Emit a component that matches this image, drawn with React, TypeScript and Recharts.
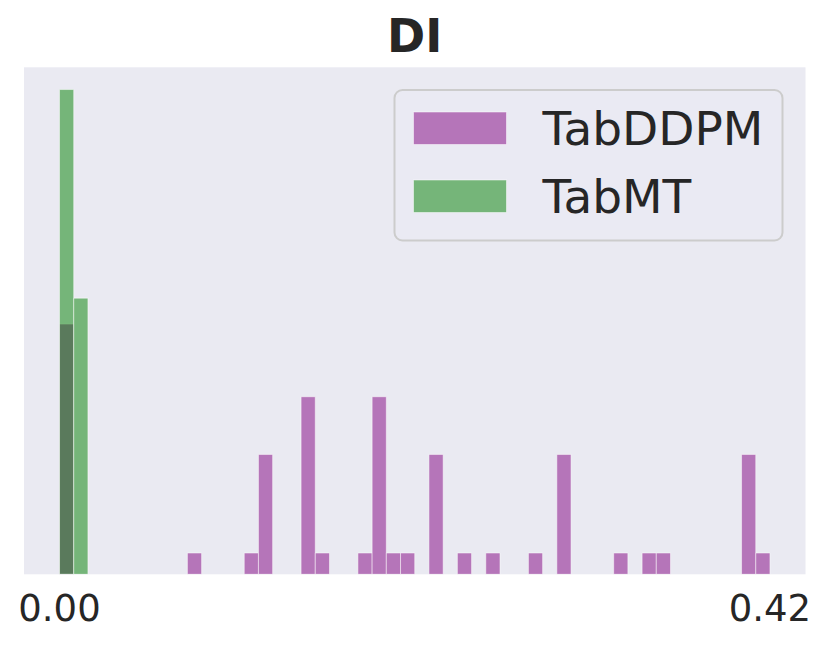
import React from "react";
import { BarChart, Bar, XAxis, YAxis, CartesianGrid } from "recharts";

const TITLE = "DI";
const SERIES_NAMES = ["TabDDPM", "TabMT"];
const SERIES_COLORS = ["purple", "green"];
const BIN_WIDTH = 0.0084;

// left edges of the non-empty bins and their counts
const tabddpmEdges = [0, 0.0756, 0.1092, 0.1176, 0.1428, 0.1512, 0.1764, 0.1848, 0.1932, 0.2016, 0.2184, 0.2352, 0.252, 0.2772, 0.294, 0.3276, 0.3444, 0.3528, 0.4032, 0.4116];
const tabddpmCounts = [5, 1, 1, 2, 3, 1, 1, 3, 1, 1, 2, 1, 1, 1, 2, 1, 1, 1, 2, 1];
const tabmtEdges = [0, 0.0084];
const tabmtCounts = [26, 6];

const xTicks = [0, 0.42];
const X_DOMAIN = [-0.021, 0.441];
const Y_DOMAIN = [0.861, 30.4];

function buildTable() {
  const map = new Map<number, any>();
  const add = (edges: number[], counts: number[], key: string) => {
    edges.forEach((e, i) => {
      const c = +(e + BIN_WIDTH / 2).toFixed(5);
      if (!map.has(c)) map.set(c, { x: c, TabDDPM: null, TabMT: null });
      map.get(c)[key] = counts[i];
    });
  };
  add(tabddpmEdges, tabddpmCounts, "TabDDPM");
  add(tabmtEdges, tabmtCounts, "TabMT");
  return Array.from(map.values()).sort((a, b) => a.x - b.x);
}

const data = buildTable();
const FONT = "'DejaVu Sans', sans-serif";
const TEXT = "#262626";

export default function App() {
  return (
    <div style={{ position: "absolute", left: 0, top: 0, width: 831, height: 645, background: "#ffffff" }}>
      <BarChart
        width={831}
        height={645}
        data={data}
        margin={{ top: 67.3, left: 24, right: 25.5, bottom: 20.7 }}
        barCategoryGap={0}
        barGap={0}
      >
        <CartesianGrid fill="#EAEAF2" stroke="none" horizontal={false} vertical={false} />
        <XAxis
          xAxisId="a"
          dataKey="x"
          type="number"
          domain={X_DOMAIN}
          allowDataOverflow
          ticks={xTicks}
          tickFormatter={(v: number) => v.toFixed(2)}
          axisLine={false}
          tickLine={false}
          tickSize={0}
          tickMargin={20}
          height={50}
          interval={0}
          tick={{ fill: TEXT, fontSize: 37, fontFamily: FONT }}
        />
        <XAxis xAxisId="b" dataKey="x" type="number" domain={X_DOMAIN} allowDataOverflow hide />
        <YAxis type="number" scale="log" domain={Y_DOMAIN} allowDataOverflow hide width={0} />
        <Bar
          xAxisId="a"
          dataKey="TabDDPM"
          fill={SERIES_COLORS[0]}
          fillOpacity={0.5}
          stroke="#ffffff"
          strokeOpacity={0.5}
          strokeWidth={1}
          barSize={14.2}
          isAnimationActive={false}
        />
        <Bar
          xAxisId="b"
          dataKey="TabMT"
          fill={SERIES_COLORS[1]}
          fillOpacity={0.5}
          stroke="#ffffff"
          strokeOpacity={0.5}
          strokeWidth={1}
          barSize={14.2}
          isAnimationActive={false}
        />
      </BarChart>
      <svg width={831} height={645} style={{ position: "absolute", left: 0, top: 0, pointerEvents: "none" }}>
        <text x={414.75} y={52} textAnchor="middle" fontFamily={FONT} fontWeight="bold" fontSize={46} fill={TEXT}>
          {TITLE}
        </text>
        <rect x={394.5} y={90} width={388} height={150.5} rx={8} ry={8} fill="#EAEAF2" fillOpacity={0.8} stroke="#CCCCCC" strokeWidth={2} />
        {SERIES_NAMES.map((name, i) => (
          <g key={name}>
            <rect
              x={413.5}
              y={112 + i * 68}
              width={93}
              height={32.5}
              fill={SERIES_COLORS[i]}
              fillOpacity={0.5}
              stroke="#ffffff"
              strokeOpacity={0.5}
              strokeWidth={1}
            />
            <text x={542.5} y={145 + i * 68} fontFamily={FONT} fontSize={47} fill={TEXT}>
              {name}
            </text>
          </g>
        ))}
      </svg>
    </div>
  );
}
